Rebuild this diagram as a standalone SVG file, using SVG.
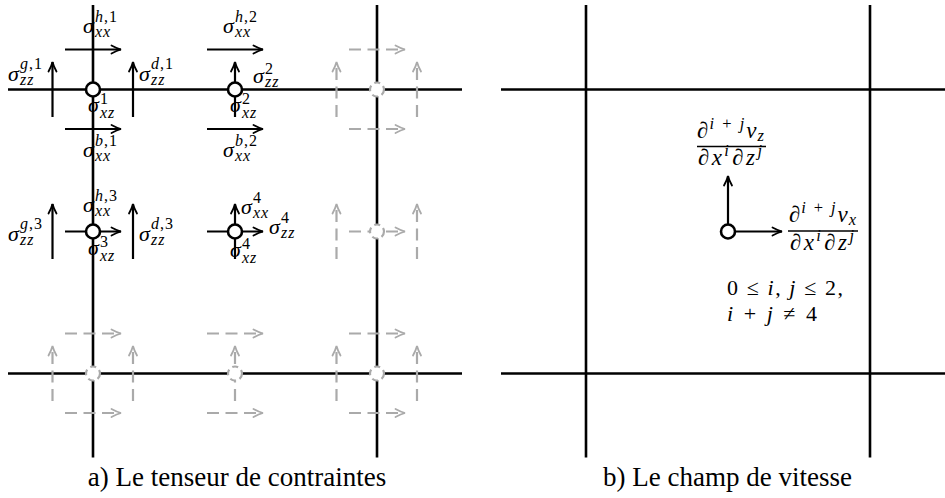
<svg xmlns="http://www.w3.org/2000/svg" width="945" height="498" viewBox="0 0 945 498">
<style>
.g{stroke:#000;stroke-width:2.6;fill:none}
.a{stroke:#000;stroke-width:2.2;fill:none;marker-end:url(#ah)}
.d{stroke:#aaa;stroke-width:2.2;fill:none;stroke-dasharray:12 6.5;marker-end:url(#ahg)}
.n{fill:#fff;stroke:#000;stroke-width:2.6}
.ng{fill:#fff;stroke:#aaa;stroke-width:2.2;stroke-dasharray:6 4}
.m{font-style:italic;font-size:22px;fill:#000}
.s{font-size:16px;letter-spacing:1px}
.f{font-size:23px}
.f .s{font-size:16.5px}
.u{font-style:normal}
.cap{font-size:27px;fill:#000}
.bar{stroke:#000;stroke-width:1.3}
</style>
<defs>
<marker id="ah" markerUnits="userSpaceOnUse" orient="auto" refX="0" refY="0" markerWidth="12" markerHeight="12" viewBox="-11 -6 12 12" overflow="visible">
<path d="M-9.5,-4 Q-4,-1 0,0 Q-4,1 -9.5,4" fill="none" stroke="#000" stroke-width="1.8" stroke-linecap="round"/>
</marker>
<marker id="ahg" markerUnits="userSpaceOnUse" orient="auto" refX="0" refY="0" markerWidth="12" markerHeight="12" viewBox="-11 -6 12 12" overflow="visible">
<path d="M-9.5,-4 Q-4,-1 0,0 Q-4,1 -9.5,4" fill="none" stroke="#aaa" stroke-width="1.8" stroke-linecap="round"/>
</marker>
</defs>
<rect width="945" height="498" fill="#fff"/>
<g id="grid">
<line class="g" x1="93" y1="5" x2="93" y2="457.5"/>
<line class="g" x1="377" y1="5" x2="377" y2="457.5"/>
<line class="g" x1="8" y1="89.5" x2="462" y2="89.5"/>
<line class="g" x1="8" y1="373.5" x2="462" y2="373.5"/>
<line class="g" x1="586" y1="5" x2="586" y2="457.5"/>
<line class="g" x1="870" y1="5" x2="870" y2="457.5"/>
<line class="g" x1="501" y1="89.5" x2="945" y2="89.5"/>
<line class="g" x1="501" y1="373.5" x2="945" y2="373.5"/>
</g>
<g id="connectors">
<line class="a" x1="65" y1="49.5" x2="121" y2="49.5"/>
<line class="a" x1="65" y1="129" x2="121" y2="129"/>
<line class="a" x1="52.5" y1="117" x2="52.5" y2="62"/>
<line class="a" x1="133" y1="117" x2="133" y2="62"/>
<line class="a" x1="207" y1="49.5" x2="263" y2="49.5"/>
<line class="a" x1="207" y1="129" x2="263" y2="129"/>
<line class="a" x1="235" y1="117" x2="235" y2="62"/>
<line class="a" x1="52.5" y1="259" x2="52.5" y2="204"/>
<line class="a" x1="133" y1="259" x2="133" y2="204"/>
<line class="a" x1="65" y1="231.5" x2="121" y2="231.5"/>
<line class="a" x1="207" y1="231.5" x2="263" y2="231.5"/>
<line class="a" x1="235" y1="259" x2="235" y2="204"/>
<line class="d" x1="349" y1="49.5" x2="405" y2="49.5"/>
<line class="d" x1="349" y1="129" x2="405" y2="129"/>
<line class="d" x1="336.5" y1="117" x2="336.5" y2="62"/>
<line class="d" x1="417" y1="117" x2="417" y2="62"/>
<line class="d" x1="336.5" y1="259" x2="336.5" y2="204"/>
<line class="d" x1="417" y1="259" x2="417" y2="204"/>
<line class="d" x1="349" y1="231.5" x2="405" y2="231.5"/>
<line class="d" x1="65" y1="333.5" x2="121" y2="333.5"/>
<line class="d" x1="65" y1="413" x2="121" y2="413"/>
<line class="d" x1="52.5" y1="401" x2="52.5" y2="346"/>
<line class="d" x1="133" y1="401" x2="133" y2="346"/>
<line class="d" x1="207" y1="333.5" x2="263" y2="333.5"/>
<line class="d" x1="207" y1="413" x2="263" y2="413"/>
<line class="d" x1="235" y1="401" x2="235" y2="346"/>
<line class="d" x1="349" y1="333.5" x2="405" y2="333.5"/>
<line class="d" x1="349" y1="413" x2="405" y2="413"/>
<line class="d" x1="336.5" y1="401" x2="336.5" y2="346"/>
<line class="d" x1="417" y1="401" x2="417" y2="346"/>
<line class="a" x1="728" y1="231.5" x2="728" y2="176"/>
<line class="a" x1="728" y1="231.5" x2="782" y2="231.5"/>
</g>
<g id="gray-nodes">
<circle class="ng" cx="377" cy="89.5" r="7"/>
<circle class="ng" cx="377" cy="231.5" r="7"/>
<circle class="ng" cx="93" cy="373.5" r="7"/>
<circle class="ng" cx="235" cy="373.5" r="7"/>
<circle class="ng" cx="377" cy="373.5" r="7"/>
</g>
<g font-family="Liberation Serif, serif">
<g id="node1">
<circle class="n" cx="93" cy="89.5" r="7"/>
<text class="m"><tspan x="83" y="33">σ</tspan><tspan class="s" x="95" y="22">h<tspan class="u">,1</tspan></tspan><tspan class="s" x="95" y="37">xx</tspan></text>
<text class="m"><tspan x="8" y="81">σ</tspan><tspan class="s" x="20" y="69">g<tspan class="u">,1</tspan></tspan><tspan class="s" x="20" y="85">zz</tspan></text>
<text class="m"><tspan x="139" y="81">σ</tspan><tspan class="s" x="151" y="69">d<tspan class="u">,1</tspan></tspan><tspan class="s" x="151" y="85">zz</tspan></text>
<text class="m"><tspan x="88" y="112">σ</tspan><tspan class="s u" x="100" y="104">1</tspan><tspan class="s" x="100" y="118">xz</tspan></text>
<text class="m"><tspan x="83" y="157">σ</tspan><tspan class="s" x="95" y="146">b<tspan class="u">,1</tspan></tspan><tspan class="s" x="95" y="161">xx</tspan></text>
</g>
<g id="node2">
<circle class="n" cx="235" cy="89.5" r="7"/>
<text class="m"><tspan x="223" y="33">σ</tspan><tspan class="s" x="235" y="22">h<tspan class="u">,2</tspan></tspan><tspan class="s" x="235" y="37">xx</tspan></text>
<text class="m"><tspan x="253" y="83">σ</tspan><tspan class="s u" x="265" y="74">2</tspan><tspan class="s" x="265" y="87">zz</tspan></text>
<text class="m"><tspan x="230" y="112">σ</tspan><tspan class="s u" x="242" y="104">2</tspan><tspan class="s" x="242" y="118">xz</tspan></text>
<text class="m"><tspan x="223" y="157">σ</tspan><tspan class="s" x="235" y="146">b<tspan class="u">,2</tspan></tspan><tspan class="s" x="235" y="161">xx</tspan></text>
</g>
<g id="node3">
<circle class="n" cx="93" cy="231.5" r="7"/>
<text class="m"><tspan x="8" y="241">σ</tspan><tspan class="s" x="20" y="229">g<tspan class="u">,3</tspan></tspan><tspan class="s" x="20" y="245">zz</tspan></text>
<text class="m"><tspan x="139" y="241">σ</tspan><tspan class="s" x="151" y="229">d<tspan class="u">,3</tspan></tspan><tspan class="s" x="151" y="245">zz</tspan></text>
<text class="m"><tspan x="83" y="212">σ</tspan><tspan class="s" x="95" y="201">h<tspan class="u">,3</tspan></tspan><tspan class="s" x="95" y="216">xx</tspan></text>
<text class="m"><tspan x="88" y="255">σ</tspan><tspan class="s u" x="100" y="247">3</tspan><tspan class="s" x="100" y="261">xz</tspan></text>
</g>
<g id="node4">
<circle class="n" cx="235" cy="231.5" r="7"/>
<text class="m"><tspan x="241" y="214">σ</tspan><tspan class="s u" x="253" y="203">4</tspan><tspan class="s" x="253" y="218">xx</tspan></text>
<text class="m"><tspan x="269" y="234">σ</tspan><tspan class="s u" x="281" y="223">4</tspan><tspan class="s" x="281" y="238">zz</tspan></text>
<text class="m"><tspan x="230" y="257">σ</tspan><tspan class="s u" x="242" y="249">4</tspan><tspan class="s" x="242" y="263">xz</tspan></text>
</g>
<g id="velocity-node">
<circle class="n" cx="728" cy="231.5" r="7"/>
<text class="m f" x="697" y="137.5" textLength="68" lengthAdjust="spacing">∂<tspan class="s" dy="-9">i<tspan class="u"> + </tspan>j</tspan><tspan dy="9">v</tspan><tspan class="s" dy="3">z</tspan></text>
<line class="bar" x1="697" y1="146.5" x2="766" y2="146.5"/>
<text class="m f" x="698" y="165" textLength="65" lengthAdjust="spacing">∂x<tspan class="s" dy="-9">i</tspan><tspan dy="9">∂z</tspan><tspan class="s" dy="-9">j</tspan></text>
<text class="m f" x="789" y="222" textLength="68" lengthAdjust="spacing">∂<tspan class="s" dy="-9">i<tspan class="u"> + </tspan>j</tspan><tspan dy="9">v</tspan><tspan class="s" dy="3">x</tspan></text>
<line class="bar" x1="788" y1="231" x2="858" y2="231"/>
<text class="m f" x="790" y="249.5" textLength="65" lengthAdjust="spacing">∂x<tspan class="s" dy="-9">i</tspan><tspan dy="9">∂z</tspan><tspan class="s" dy="-9">j</tspan></text>
<text class="m" x="727" y="295" textLength="116" lengthAdjust="spacing"><tspan class="u">0 ≤ </tspan>i<tspan class="u">, </tspan>j<tspan class="u"> ≤ 2,</tspan></text>
<text class="m" x="727" y="321" textLength="90" lengthAdjust="spacing">i<tspan class="u"> + </tspan>j<tspan class="u"> ≠ 4</tspan></text>
</g>
<g id="captions">
<text class="cap" x="237" y="486" text-anchor="middle">a) Le tenseur de contraintes</text>
<text class="cap" x="727.5" y="486" text-anchor="middle">b) Le champ de vitesse</text>
</g>
</g>
</svg>
